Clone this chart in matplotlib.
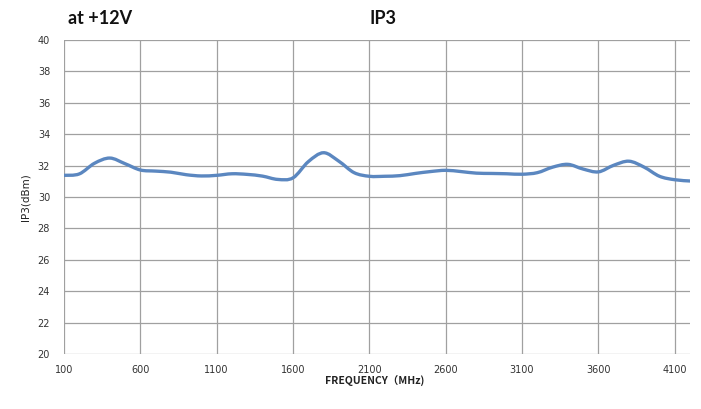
import numpy as np
import matplotlib
matplotlib.use("Agg")
import matplotlib.pyplot as plt
from matplotlib.path import Path
from matplotlib.patches import PathPatch

freq_mhz = [100, 200, 300, 400, 500, 600, 700, 800, 900, 1000,
            1100, 1200, 1300, 1400, 1500, 1600, 1700, 1800, 1900, 2000,
            2100, 2200, 2300, 2400, 2500, 2600, 2700, 2800, 2900, 3000,
            3100, 3200, 3300, 3400, 3500, 3600, 3700, 3800, 3900, 4000,
            4100, 4200]
ip3_dbm = [31.38, 31.47, 32.15, 32.48, 32.12, 31.72, 31.65, 31.58, 31.42, 31.34,
           31.38, 31.48, 31.44, 31.33, 31.12, 31.22, 32.25, 32.82, 32.28, 31.55,
           31.32, 31.32, 31.36, 31.50, 31.62, 31.70, 31.62, 31.52, 31.50, 31.48,
           31.45, 31.55, 31.90, 32.08, 31.78, 31.60, 32.02, 32.28, 31.90, 31.32,
           31.10, 31.02]
x_ticks = [100, 600, 1100, 1600, 2100, 2600, 3100, 3600, 4100]
y_ticks = [20, 22, 24, 26, 28, 30, 32, 34, 36, 38, 40]

fig = plt.figure(figsize=(7.01, 4.09), dpi=100)
ax = fig.add_axes([64/701, 1-354/409, (690-64)/701, (354-40)/409])
ax.set_xlim(100, 4200)
ax.set_ylim(20, 40)

grid_c = "#a0a0a0"
for xv in x_ticks:
    ax.axvline(xv, color=grid_c, lw=0.9, zorder=1)
for yv in y_ticks:
    ax.axhline(yv, color=grid_c, lw=0.9, zorder=1)
for s in ax.spines.values():
    s.set_visible(False)

# smooth line (Catmull-Rom -> cubic Bezier) through the data points
x = np.array(freq_mhz, float)
y = np.array(ip3_dbm, float)
verts = [(x[0], y[0])]
codes = [Path.MOVETO]
n = len(x)
for i in range(n - 1):
    p0 = (x[i-1], y[i-1]) if i > 0 else (x[i], y[i])
    p1 = (x[i], y[i])
    p2 = (x[i+1], y[i+1])
    p3 = (x[i+2], y[i+2]) if i + 2 < n else p2
    c1 = (p1[0] + (p2[0]-p0[0])/6, p1[1] + (p2[1]-p0[1])/6)
    c2 = (p2[0] - (p3[0]-p1[0])/6, p2[1] - (p3[1]-p1[1])/6)
    verts += [c1, c2, p2]
    codes += [Path.CURVE4]*3
patch = PathPatch(Path(verts, codes), facecolor="none", edgecolor="#5b87c0",
                  lw=2.4, zorder=3, capstyle="round", joinstyle="round")
ax.add_patch(patch)

ax.set_xticks(x_ticks)
ax.set_yticks(y_ticks)
ax.tick_params(length=0, labelsize=7, colors="#333333", pad=8)
ax.tick_params(axis="y", pad=10)
ax.set_xticklabels([str(v) for v in x_ticks], family="DejaVu Sans")

ax.set_ylabel("IP3(dBm)", fontsize=7.5, color="#222222", labelpad=5)
fig.text(375/701, 1-381/409, "FREQUENCY（MHz)", ha="center", va="center",
         fontsize=7.5, fontweight="bold", color="#222222",
         family=["Noto Sans CJK SC", "DejaVu Sans"])

fig.text(68/701, 1-18/409, "at +12V", ha="left", va="center", fontsize=13,
         fontweight="bold", family="Lato", color="#111111")
fig.text(383/701, 1-18/409, "IP3", ha="center", va="center", fontsize=13,
         fontweight="bold", family="Lato", color="#111111")

fig.savefig("out.png", dpi=100, facecolor="white")
